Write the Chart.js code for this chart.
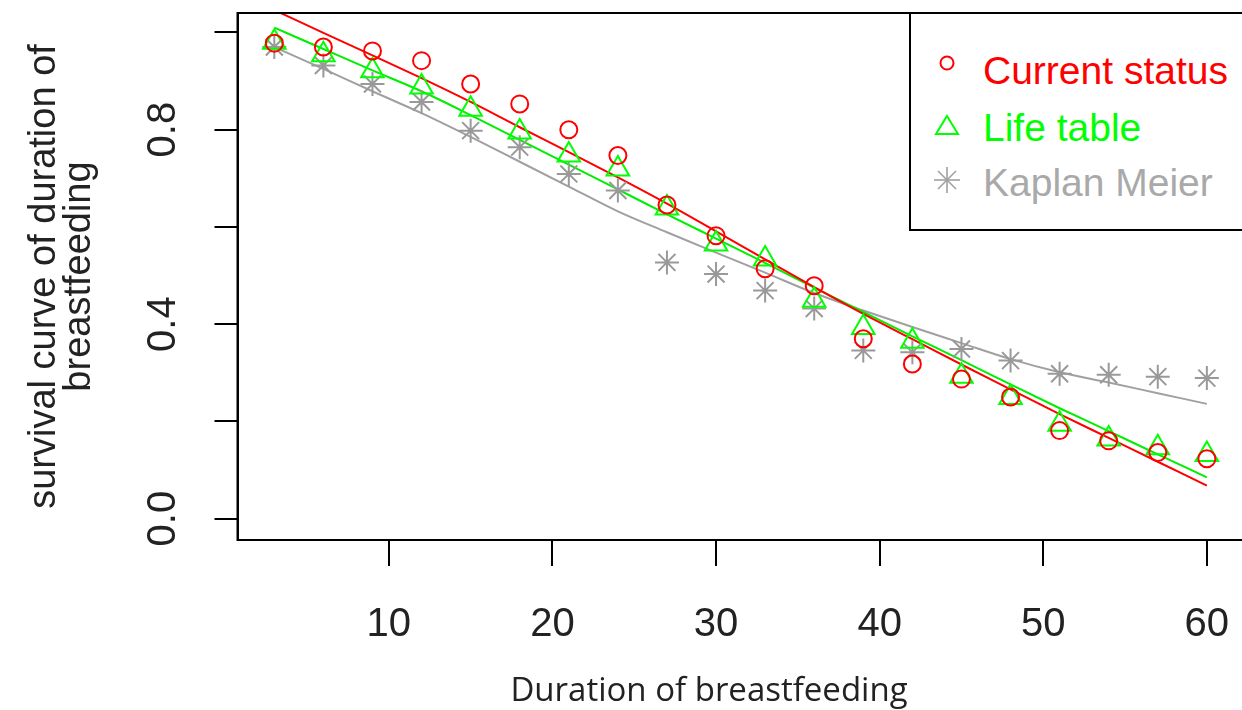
<!DOCTYPE html>
<html>
<head>
<meta charset="utf-8">
<title>Survival curve of duration of breastfeeding</title>
<script src="https://cdn.jsdelivr.net/npm/chart.js@4.4.1/dist/chart.umd.min.js"></script>
<style>
  html, body { margin: 0; padding: 0; background: #fff; overflow: hidden; }
  #wrap { position: relative; width: 1250px; height: 710px; }
  #xTitle { position: absolute; left: 459px; top: 667px; width: 500px; text-align: center;
            font-family: 'Open Sans', sans-serif; font-size: 33px; line-height: 44px; color: #222; }
  #legend { position: absolute; left: 909px; top: 12px; width: 332px; height: 215px;
            border: 2px solid #000; background: #fff;
            font-family: 'Liberation Sans', Arial, sans-serif; font-size: 39px; }
  #legend .txt { position: absolute; left: 72px; height: 40px; line-height: 40px; white-space: nowrap; }
  #legend svg { position: absolute; left: 16px; }
</style>
</head>
<body>
<div id="wrap">
  <canvas id="graphCanvas" width="1250" height="710"></canvas>
  <div id="xTitle">Duration of breastfeeding</div>
  <div id="legend">
    <svg width="40" height="40" style="top:29px"><circle cx="20" cy="20" r="6.5" fill="none" stroke="#ff0000" stroke-width="2"/></svg>
    <div class="txt" style="top:37px; color:#ff0000">Current status</div>
    <svg width="40" height="40" style="top:92px"><polygon points="20,10 31,28 9,28" fill="none" stroke="#00ff00" stroke-width="2"/></svg>
    <div class="txt" style="top:94px; color:#00ff00">Life table</div>
    <svg width="40" height="40" style="top:146px"><g stroke="#a0a0a0" stroke-width="1.6">
      <line x1="20" y1="7" x2="20" y2="33"/><line x1="7" y1="20" x2="33" y2="20"/>
      <line x1="11" y1="11" x2="29" y2="29"/><line x1="11" y1="29" x2="29" y2="11"/></g></svg>
    <div class="txt" style="top:149px; color:#a9a9a9">Kaplan Meier</div>
  </div>
</div>
<script>
// months at which the three estimates were taken
var months = [3, 6, 9, 12, 15, 18, 21, 24, 27, 30, 33, 36, 39, 42, 45, 48, 51, 54, 57, 60];

// estimated survival (points)
var currentStatus = [0.978, 0.970, 0.962, 0.942, 0.894, 0.853, 0.800, 0.747, 0.645, 0.582,
                     0.514, 0.479, 0.370, 0.318, 0.287, 0.250, 0.181, 0.160, 0.136, 0.123];
var lifeTable = [0.980, 0.954, 0.921, 0.888, 0.842, 0.795, 0.748, 0.719, 0.639, 0.565,
                 0.534, 0.449, 0.393, 0.365, 0.293, 0.249, 0.194, 0.164, 0.146, 0.132];
var kaplanMeier = [0.970, 0.932, 0.894, 0.857, 0.798, 0.764, 0.709, 0.675, 0.527, 0.503,
                   0.469, 0.432, 0.346, 0.342, 0.349, 0.325, 0.298, 0.296, 0.292, 0.289];

// fitted curves (lines)
var currentStatusFit = [1.046, 0.999, 0.953, 0.906, 0.857, 0.805, 0.754, 0.702, 0.648, 0.591,
                        0.533, 0.476, 0.421, 0.369, 0.317, 0.266, 0.215, 0.166, 0.117, 0.068];
var lifeTableFit = [1.010, 0.966, 0.922, 0.879, 0.830, 0.779, 0.728, 0.677, 0.626, 0.576,
                    0.526, 0.475, 0.425, 0.375, 0.326, 0.276, 0.227, 0.180, 0.132, 0.085];
var kaplanMeierFit = [0.970, 0.925, 0.879, 0.834, 0.785, 0.734, 0.683, 0.632, 0.589, 0.547,
                      0.506, 0.464, 0.428, 0.394, 0.361, 0.328, 0.301, 0.280, 0.258, 0.236];

// axis ticks
var xTicks = [10, 20, 30, 40, 50, 60];
var yTicks = [0, 0.2, 0.4, 0.6, 0.8, 1.0];
var yTickLabels = ['0.0', '', '0.4', '', '0.8', ''];

var tickFont = "'Liberation Sans', Arial, sans-serif";

function pts(ys) {
    return months.map(function (m, i) { return { x: m, y: ys[i] }; });
}

// plot box round the chart area
var frame = {
    id: 'frame',
    afterDraw: function (chart) {
        var ctx = chart.ctx, a = chart.chartArea;
        ctx.save();
        ctx.strokeStyle = '#000';
        ctx.lineWidth = 2;
        ctx.strokeRect(a.left, a.top, a.right - a.left, a.bottom - a.top);
        ctx.restore();
    }
};

var chartdata = {
    datasets: [
        {
            label: 'Current status',
            data: pts(currentStatus),
            pointStyle: 'circle',
            pointRadius: 8.5,
            pointBorderWidth: 2,
            pointBorderColor: '#ff0000',
            pointBackgroundColor: 'rgba(0,0,0,0)'
        },
        {
            label: 'Life table',
            data: pts(lifeTable),
            pointStyle: 'triangle',
            pointRadius: 13,
            pointBorderWidth: 2,
            pointBorderColor: '#00ff00',
            pointBackgroundColor: 'rgba(0,0,0,0)'
        },
        {
            label: 'Kaplan Meier',
            data: pts(kaplanMeier),
            pointStyle: 'star',
            pointRadius: 12,
            pointBorderWidth: 2,
            pointBorderColor: '#999999',
            pointBackgroundColor: 'rgba(0,0,0,0)'
        },
        {
            label: 'Current status fit',
            data: pts(currentStatusFit),
            showLine: true,
            borderColor: '#ff0000',
            borderWidth: 2,
            pointRadius: 0,
            cubicInterpolationMode: 'monotone'
        },
        {
            label: 'Life table fit',
            data: pts(lifeTableFit),
            showLine: true,
            borderColor: '#00ee00',
            borderWidth: 2,
            pointRadius: 0,
            cubicInterpolationMode: 'monotone'
        },
        {
            label: 'Kaplan Meier fit',
            data: pts(kaplanMeierFit),
            showLine: true,
            borderColor: '#a0a0a0',
            borderWidth: 2,
            pointRadius: 0,
            cubicInterpolationMode: 'monotone'
        }
    ]
};

new Chart(document.getElementById('graphCanvas'), {
    type: 'scatter',
    data: chartdata,
    plugins: [frame],
    options: {
        responsive: false,
        devicePixelRatio: 1,
        animation: false,
        events: [],
        layout: { autoPadding: false, padding: { left: 0, top: 13, right: 6, bottom: 0 } },
        plugins: {
            legend: { display: false },
            tooltip: { enabled: false }
        },
        scales: {
            x: {
                type: 'linear',
                min: 0.75,
                max: 62.27,
                afterBuildTicks: function (s) { s.ticks = xTicks.map(function (v) { return { value: v }; }); },
                afterFit: function (s) { s.height = 170; s.paddingLeft = 0; s.paddingRight = 0; },
                grid: { display: true, drawOnChartArea: false, drawTicks: true, tickLength: 26, color: '#000', lineWidth: 2 },
                border: { display: true, color: '#000', width: 2 },
                ticks: {
                    font: { family: tickFont, size: 40 },
                    color: '#222',
                    padding: 35,
                    maxRotation: 0,
                    autoSkip: false,
                    callback: function (v) { return String(v); }
                }
            },
            y: {
                type: 'linear',
                min: -0.044,
                max: 1.040,
                afterBuildTicks: function (s) { s.ticks = yTicks.map(function (v) { return { value: v }; }); },
                afterFit: function (s) { s.width = 237.5; s.paddingTop = 0; s.paddingBottom = 0; },
                grid: { display: true, drawOnChartArea: false, drawTicks: true, tickLength: 23, color: '#000', lineWidth: 2 },
                border: { display: true, color: '#000', width: 2 },
                ticks: {
                    font: { family: tickFont, size: 40 },
                    color: '#222',
                    padding: 22.7,
                    minRotation: 90,
                    maxRotation: 90,
                    crossAlign: 'center',
                    autoSkip: false,
                    callback: function (v, i) { return yTickLabels[i]; }
                },
                title: {
                    display: true,
                    text: ['survival curve of duration of', 'breastfeeding'],
                    font: { family: tickFont, size: 38, lineHeight: '35px' },
                    color: '#222',
                    padding: { top: 27.5, bottom: 0 }
                }
            }
        }
    }
});
</script>
</body>
</html>
